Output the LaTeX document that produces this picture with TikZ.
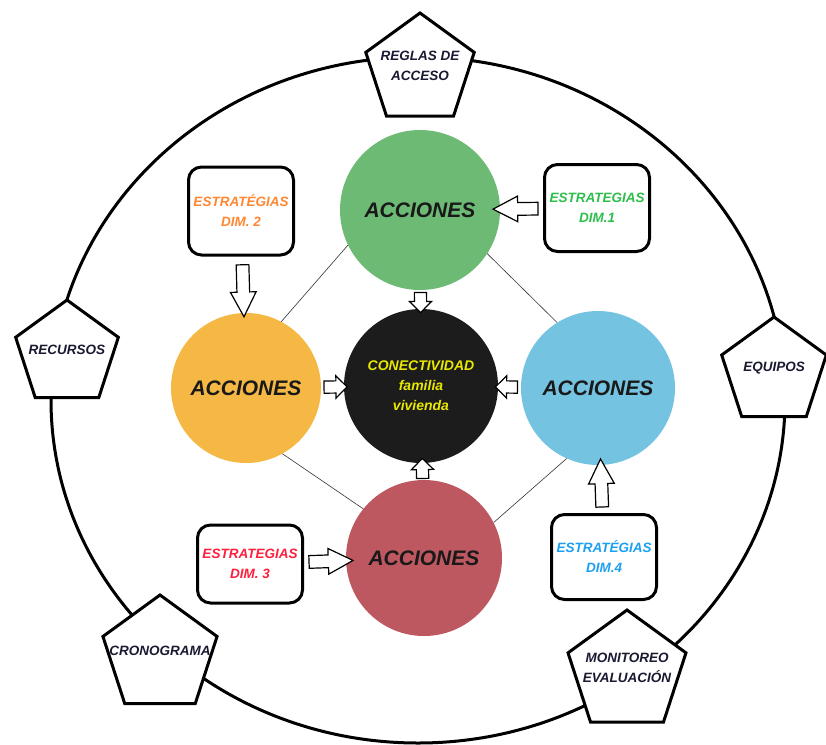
\documentclass[tikz,border=0pt]{standalone}
\usepackage{fontspec}
\setmainfont{Liberation Sans}
\usetikzlibrary{shapes.geometric,shapes.arrows}
\definecolor{accGreen}{RGB}{108,186,116}
\definecolor{accOrange}{RGB}{246,184,68}
\definecolor{accBlack}{RGB}{28,28,28}
\definecolor{accBlue}{RGB}{116,195,224}
\definecolor{accRed}{RGB}{190,88,96}
\definecolor{conYellow}{RGB}{232,232,0}
\definecolor{penText}{RGB}{25,25,50}
\definecolor{dimOrange}{RGB}{255,135,50}
\definecolor{dimGreen}{RGB}{45,190,75}
\definecolor{dimRed}{RGB}{255,30,60}
\definecolor{dimBlue}{RGB}{30,160,240}

\begin{document}
\begin{tikzpicture}[x=1pt,y=-1pt,
  pentbox/.style={regular polygon, regular polygon sides=5, draw, line width=3pt, fill=white,
    inner sep=0pt, minimum size=#1},
  pentlabel/.style={align=center, text=penText, yshift=4pt, inner sep=0pt,
    font=\fontsize{13.5}{20}\selectfont\bfseries\itshape},
  accion/.style={circle, inner sep=0pt, minimum size=#1, text=black!90,
    font=\fontsize{21}{24}\selectfont\bfseries\itshape},
  dimbox/.style={draw, line width=3pt, rounded corners=13pt, fill=white, minimum width=105pt,
    minimum height=#1, align=center, font=\fontsize{13.5}{20}\selectfont\bfseries\itshape},
  link/.style={line width=0.6pt, black!80},
  hollow/.style={single arrow, draw, fill=white, line width=1.2pt, inner xsep=0pt,
    sloped, allow upside down, minimum height=#1},
  bigarrow/.style={hollow=#1, inner ysep=5.75pt, single arrow head extend=6.5pt, single arrow tip angle=55},
  smallarrow/.style={hollow=#1, inner ysep=5.5pt, single arrow head extend=5pt, single arrow tip angle=90}]
\useasboundingbox (0,0) rectangle (826,744);
%
\node[ellipse, draw, line width=3pt, inner sep=0pt, minimum width=734pt, minimum height=686pt] (ring) at (418,400) {};
%
\node[pentbox=114pt, label={[pentlabel]center:REGLAS DE\\ACCESO}] (reglas) at (420,70) {};
\node[pentbox=108pt, label={[pentlabel]center:RECURSOS}] (recursos) at (67,354) {};
\node[pentbox=110pt, label={[pentlabel]center:EQUIPOS}] (equipos) at (774,372) {};
\node[pentbox=120pt, label={[pentlabel]center:CRONOGRAMA}] (crono) at (160,655) {};
\node[pentbox=124pt, label={[pentlabel]center:MONITOREO\\EVALUACIÓN}] (monitoreo) at (627,672) {};
%
\node[accion=160pt, fill=accGreen] (accN) at (420,210) {ACCIONES};
\node[accion=150pt, fill=accOrange] (accW) at (246,388) {ACCIONES};
\node[accion=154pt, fill=accBlue] (accE) at (598,388) {ACCIONES};
\node[accion=156pt, fill=accRed] (accS) at (424,558) {ACCIONES};
\node[accion=154pt, fill=accBlack, text=conYellow, align=center,
  font=\fontsize{14}{20}\selectfont\bfseries\itshape] (conect) at (421,386) {CONECTIVIDAD\\familia\\vivienda};
%
\draw[link] (accN.206) -- (accW.62);
\draw[link] (accN.327) -- (accE.122);
\draw[link] (accW.299) -- (accS.141);
\draw[link] (accE.246) -- (accS.27);
%
\node[dimbox=87pt, text=dimGreen] (dim1) at (597,208) {ESTRATEGIAS\\DIM.1};
\node[dimbox=88pt, text=dimOrange] (dim2) at (241,211) {ESTRATÉGIAS\\DIM. 2};
\node[dimbox=78pt, text=dimRed] (dim3) at (250,564) {ESTRATEGIAS\\DIM. 3};
\node[dimbox=85pt, text=dimBlue] (dim4) at (604,557) {ESTRATÉGIAS\\DIM.4};
%
\path (dim1) -- node[bigarrow=45pt] {} (accN);
\path (dim2) -- node[bigarrow=52pt] {} (accW);
\path (dim3) -- node[bigarrow=44pt] {} (accS);
\path (dim4) -- node[bigarrow=48pt] {} (accE);
%
\path (accN) -- node[smallarrow=20pt] {} (conect);
\path (accW) -- node[smallarrow=23pt] {} (conect);
\path (accE) -- node[smallarrow=22pt] {} (conect);
\path (accS) -- node[smallarrow=20pt] {} (conect);
\end{tikzpicture}
\end{document}
